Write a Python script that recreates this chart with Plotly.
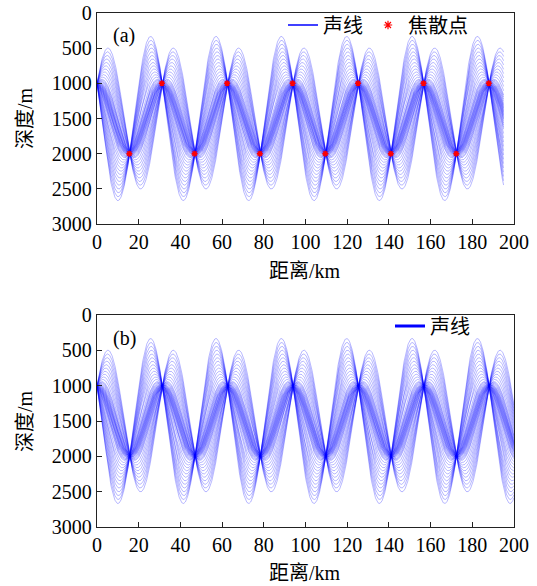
import numpy as np
import plotly.graph_objects as go

# ---------------- data ----------------
source_depth_m = 1000          # all rays leave from this depth at range 0
focus_range_km = [15.5, 31.1, 46.8, 62.4, 78.1, 93.8, 109.5, 125.2, 140.9, 156.6, 172.3, 187.9]
focus_depth_m = [2000, 1000, 2000, 1000, 2000, 1000, 2000, 1000, 2000, 1000, 2000, 1000]
# shallowest turning depth of each ray launched upward
up_ray_turn_depth_m = [1000, 999.6, 998.4, 996.4, 993.6, 990, 985, 976, 966, 954, 942,
                       912, 877, 838, 796, 751, 704, 654, 604, 552, 498]
# deepest turning depth of each ray launched downward
down_ray_turn_depth_m = [2000.4, 2001.6, 2003.6, 2006.4, 2010, 2015, 2024, 2034, 2046, 2058,
                         2088, 2123, 2162, 2204, 2249, 2296, 2346, 2396, 2448, 2502,
                         2556, 2611, 2667]
range_end_a_km = 195
range_end_b_km = 200
x_ticks = [0, 20, 40, 60, 80, 100, 120, 140, 160, 180, 200]
y_ticks = [0, 500, 1000, 1500, 2000, 2500, 3000]

# ---------------- ray paths (parabolic channel -> sinusoidal rays) ----------------
axis_depth = (min(focus_depth_m) + max(focus_depth_m)) / 2
half_period = (focus_range_km[-1] - focus_range_km[0]) / (len(focus_range_km) - 1)
period = 2 * half_period


def ray_paths(x_end):
    out = []
    x = np.linspace(0, x_end, int(x_end * 6) + 1)
    for turn_list, up in ((up_ray_turn_depth_m, True), (down_ray_turn_depth_m, False)):
        for t in turn_list:
            amp = abs(t - axis_depth)
            p0 = np.arcsin(min(1.0, (axis_depth - source_depth_m) / amp))
            if not up:
                p0 = np.pi - p0
            z = axis_depth - amp * np.sin(p0 + 2 * np.pi * x / period)
            out.append((x, z))
    return out


FONT = "Liberation Serif, Noto Sans CJK SC"
FS = 20
ray_line = dict(color="rgba(0,0,255,0.4)", width=0.7)

fig = go.Figure()

for xr, zr in ray_paths(range_end_a_km):
    fig.add_trace(go.Scatter(x=xr, y=zr, mode="lines", line=ray_line, showlegend=False,
                             xaxis="x", yaxis="y", hoverinfo="skip"))
fig.add_trace(go.Scatter(x=focus_range_km, y=focus_depth_m, mode="markers",
                         marker=dict(symbol="asterisk", size=5, color="red",
                                     line=dict(color="red", width=1.5)),
                         showlegend=False, xaxis="x", yaxis="y"))
for xr, zr in ray_paths(range_end_b_km):
    fig.add_trace(go.Scatter(x=xr, y=zr, mode="lines", line=ray_line, showlegend=False,
                             xaxis="x2", yaxis="y2", hoverinfo="skip"))

# legend entries
fig.add_trace(go.Scatter(x=[None], y=[None], mode="lines", name="声线",
                         line=dict(color="blue", width=1.5), legend="legend",
                         xaxis="x", yaxis="y"))
fig.add_trace(go.Scatter(x=[None], y=[None], mode="markers", name="焦散点",
                         marker=dict(symbol="asterisk", size=7, color="red",
                                     line=dict(color="red", width=1.2)),
                         legend="legend", xaxis="x", yaxis="y"))
fig.add_trace(go.Scatter(x=[None], y=[None], mode="lines", name="声线",
                         line=dict(color="blue", width=3), legend="legend2",
                         xaxis="x2", yaxis="y2"))

ax_common = dict(range=[0, 200], tickvals=x_ticks, ticks="inside", ticklen=5,
                 tickcolor="#222", showline=True, linecolor="#222", linewidth=1.3,
                 mirror=True, showgrid=False, zeroline=False, automargin=False,
                 ticklabeloverflow="allow",
                 tickfont=dict(family=FONT, size=FS, color="black"))
ay_common = dict(range=[3000, 0], tickvals=y_ticks, ticks="inside", ticklen=5,
                 tickcolor="#222", showline=True, linecolor="#222", linewidth=1.3,
                 mirror=True, showgrid=False, zeroline=False, automargin=False,
                 ticklabeloverflow="allow",
                 tickfont=dict(family=FONT, size=FS, color="black"))

# the page body margin is removed below, so figure pixels = window pixels
W, H = 537, 586
L, R, T, B = 97, 514, 13, 527   # plot-area edges (px)
pw, ph = R - L, B - T
dom_a = [(B - 224) / ph, 1.0]
dom_b = [0.0, (B - 315) / ph]


def px_x(p):      # window pixel -> paper x
    return (p - L) / pw


def px_y(p):      # window pixel -> paper y
    return (B - p) / ph


fig.update_layout(
    width=W, height=H,
    margin=dict(l=L, r=W - R, t=T, b=H - B, autoexpand=False),
    paper_bgcolor="white", plot_bgcolor="white",
    font=dict(family=FONT, size=FS, color="black"),
    xaxis=dict(ax_common, anchor="y", domain=[0, 1]),
    yaxis=dict(ay_common, anchor="x", domain=dom_a),
    xaxis2=dict(ax_common, anchor="y2", domain=[0, 1]),
    yaxis2=dict(ay_common, anchor="x2", domain=dom_b),
    legend=dict(orientation="h", x=px_x(473), xanchor="right", y=px_y(25), yanchor="middle",
                bgcolor="rgba(0,0,0,0)", font=dict(family=FONT, size=FS),
                itemwidth=30, tracegroupgap=0),
    legend2=dict(orientation="h", x=px_x(475), xanchor="right", y=px_y(326),
                 yanchor="middle", bgcolor="rgba(0,0,0,0)",
                 font=dict(family=FONT, size=FS), itemwidth=30),
    showlegend=True,
)


def ann(text, x, y, **kw):
    fig.add_annotation(text=text, x=x, y=y, xref="paper", yref="paper",
                       xanchor="center", yanchor="middle",
                       showarrow=False, font=dict(family=FONT, size=FS, color="black"), **kw)


ann("(a)", px_x(124), px_y(36))
ann("(b)", px_x(124), px_y(338))
ann("距离/km", px_x(305), px_y(271))
ann("距离/km", px_x(305), px_y(573))
ann("深度/m", px_x(25), px_y(118), textangle=-90)
ann("深度/m", px_x(25), px_y(421), textangle=-90)

fig.write_html("out.html",
               config={"displayModeBar": False},
               post_script="document.body.style.margin='0';document.body.style.overflow='hidden';")
